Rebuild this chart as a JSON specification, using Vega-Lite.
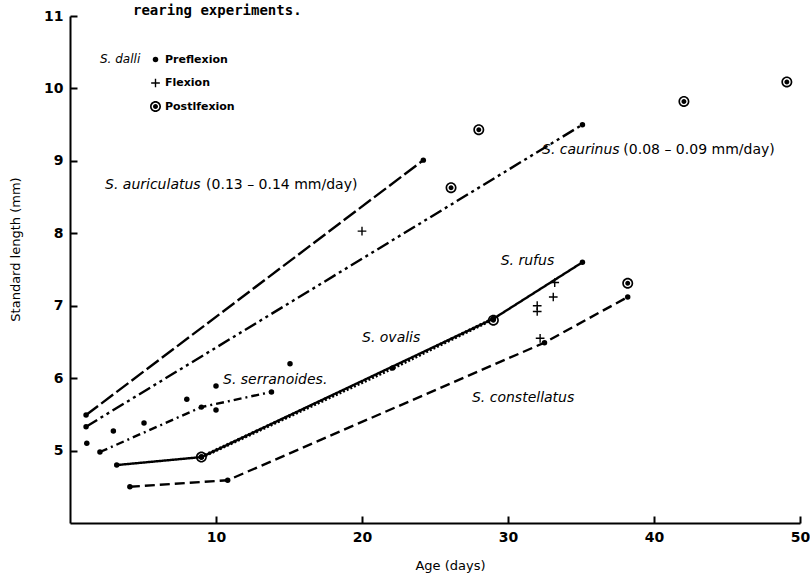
{
  "$schema": "https://vega.github.io/schema/vega-lite/v6.json",
  "autosize": "none",
  "width": 730,
  "height": 507,
  "padding": {"left": 70, "top": 16, "right": 10, "bottom": 51},
  "background": "white",
  "title": {"text": "rearing experiments.", "anchor": "start", "frame": "group", "dx": 63, "offset": 0, "dy": 20, "baseline": "alphabetic", "font": "DejaVu Sans Mono", "fontSize": 14, "fontWeight": "bold", "color": "black"},
  "config": {
    "view": {"stroke": null},
    "axis": {"grid": false, "domainColor": "black", "domainWidth": 2, "tickColor": "black", "tickWidth": 2, "tickSize": -7, "labelPadding": 14, "labelFont": "DejaVu Sans", "labelFontWeight": "bold", "labelFontSize": 14, "labelColor": "black", "titleFont": "DejaVu Sans", "titleFontWeight": "normal", "titleFontSize": 13, "titleColor": "black", "labelFlush": false}
  },
  "datasets": {
    "lines": [
      {"sp": "auriculatus", "age": 1.1, "sl": 5.49},
      {"sp": "auriculatus", "age": 24.2, "sl": 9.01},
      {"sp": "caurinus", "age": 1.1, "sl": 5.33},
      {"sp": "caurinus", "age": 35.1, "sl": 9.5},
      {"sp": "serranoides", "age": 2.05, "sl": 4.98},
      {"sp": "serranoides", "age": 9.0, "sl": 5.6},
      {"sp": "serranoides", "age": 13.8, "sl": 5.81},
      {"sp": "rufus", "age": 3.2, "sl": 4.8},
      {"sp": "rufus", "age": 9.0, "sl": 4.91},
      {"sp": "rufus", "age": 29.0, "sl": 6.82},
      {"sp": "rufus", "age": 35.1, "sl": 7.6},
      {"sp": "constellatus", "age": 4.1, "sl": 4.5},
      {"sp": "constellatus", "age": 10.8, "sl": 4.59},
      {"sp": "constellatus", "age": 32.5, "sl": 6.49},
      {"sp": "constellatus", "age": 38.2, "sl": 7.12}
    ],
    "ovalis": [
      {"sp": "ovalis", "age": 9.0, "sl": 4.91},
      {"sp": "ovalis", "age": 22.1, "sl": 6.14},
      {"sp": "ovalis", "age": 29.0, "sl": 6.82}
    ],
    "dalli": [
      {"stage": "Preflexion", "age": 1.15, "sl": 5.1},
      {"stage": "Preflexion", "age": 2.97, "sl": 5.27},
      {"stage": "Preflexion", "age": 5.07, "sl": 5.38},
      {"stage": "Preflexion", "age": 8.0, "sl": 5.71},
      {"stage": "Preflexion", "age": 10.0, "sl": 5.89},
      {"stage": "Preflexion", "age": 10.0, "sl": 5.56},
      {"stage": "Preflexion", "age": 15.07, "sl": 6.2},
      {"stage": "Flexion", "age": 20.0, "sl": 8.03},
      {"stage": "Flexion", "age": 32.0, "sl": 7.0},
      {"stage": "Flexion", "age": 32.0, "sl": 6.92},
      {"stage": "Flexion", "age": 33.1, "sl": 7.12},
      {"stage": "Flexion", "age": 33.2, "sl": 7.32},
      {"stage": "Flexion", "age": 32.2, "sl": 6.55},
      {"stage": "Postlfexion", "age": 9.0, "sl": 4.91},
      {"stage": "Postlfexion", "age": 26.1, "sl": 8.63},
      {"stage": "Postlfexion", "age": 28.0, "sl": 9.43},
      {"stage": "Postlfexion", "age": 29.0, "sl": 6.8},
      {"stage": "Postlfexion", "age": 38.2, "sl": 7.31},
      {"stage": "Postlfexion", "age": 42.05, "sl": 9.82},
      {"stage": "Postlfexion", "age": 49.1, "sl": 10.09}
    ],
    "names": [
      {"age": 2.4, "sl": 8.67, "label": "S. auriculatus"},
      {"age": 32.33, "sl": 9.15, "label": "S. caurinus"},
      {"age": 29.5, "sl": 7.62, "label": "S. rufus"},
      {"age": 20.0, "sl": 6.555, "label": "S. ovalis"},
      {"age": 10.48, "sl": 5.975, "label": "S. serranoides."},
      {"age": 27.53, "sl": 5.73, "label": "S. constellatus"}
    ],
    "notes": [
      {"age": 9.32, "sl": 8.67, "label": "(0.13 – 0.14 mm/day)"},
      {"age": 37.9, "sl": 9.15, "label": "(0.08 – 0.09 mm/day)"}
    ]
  },
  "encoding": {
    "x": {"field": "age", "type": "quantitative", "scale": {"domain": [0, 50], "nice": false}, "axis": {"values": [10, 20, 30, 40, 50], "title": "Age (days)", "titleX": 380, "titleY": 42, "titleBaseline": "middle"}},
    "y": {"field": "sl", "type": "quantitative", "scale": {"domain": [4, 11], "nice": false, "zero": false}, "axis": {"values": [5, 6, 7, 8, 9, 10, 11], "title": "Standard length (mm)", "titleX": -55, "titleY": 233, "titleBaseline": "middle", "titleAlign": "center"}}
  },
  "layer": [
    {
      "data": {"name": "lines"},
      "mark": {"type": "line", "color": "black", "strokeWidth": 2.4, "strokeCap": "butt", "point": {"filled": true, "size": 30, "color": "black"}},
      "encoding": {
        "detail": {"field": "sp", "type": "nominal"},
        "strokeDash": {"field": "sp", "type": "nominal", "legend": null, "scale": {"domain": ["auriculatus", "caurinus", "serranoides", "rufus", "constellatus"], "range": [[15, 4], [13, 4, 3, 4, 3, 4], [8, 4, 2, 4], [1, 0], [10, 5]]}}
      }
    },
    {
      "data": {"name": "ovalis"},
      "mark": {"type": "line", "color": "black", "strokeWidth": 3.6, "strokeDash": [2, 2], "point": {"filled": true, "size": 30, "color": "black"}},
      "encoding": {}
    },
    {
      "data": {"name": "dalli"},
      "mark": {"type": "point", "filled": true, "color": "black", "opacity": 1, "strokeWidth": 0},
      "encoding": {
        "shape": {"field": "stage", "type": "nominal", "scale": {"domain": ["Preflexion", "Flexion", "Postlfexion"], "range": ["circle", "M-1,-0.16H-0.16V-1H0.16V-0.16H1V0.16H0.16V1H-0.16V0.16H-1Z", "M-1,0A1,1,0,1,1,1,0A1,1,0,1,1,-1,0ZM-0.7,0A0.7,0.7,0,1,0,0.7,0A0.7,0.7,0,1,0,-0.7,0ZM-0.45,0A0.45,0.45,0,1,1,0.45,0A0.45,0.45,0,1,1,-0.45,0Z"]},
          "legend": {"title": "S. dalli", "orient": "none", "legendX": 30, "legendY": 38, "direction": "vertical", "titleOrient": "left", "titleAnchor": "start", "titleFont": "DejaVu Sans", "titleFontStyle": "italic", "titleFontWeight": "normal", "titleFontSize": 12, "titleColor": "black", "titleBaseline": "top", "titlePadding": 9, "labelFont": "DejaVu Sans", "labelFontWeight": "bold", "labelFontSize": 11, "labelColor": "black", "labelOffset": 4, "rowPadding": 11.5, "padding": 0, "symbolFillColor": "black", "symbolStrokeWidth": 0}},
        "size": {"field": "stage", "type": "nominal", "scale": {"domain": ["Preflexion", "Flexion", "Postlfexion"], "range": [30, 121, 169]}, "legend": {"title": "S. dalli", "orient": "none", "legendX": 30, "legendY": 38}}
      }
    },
    {
      "data": {"name": "names"},
      "mark": {"type": "text", "align": "left", "baseline": "middle", "font": "DejaVu Sans", "fontSize": 14, "fontStyle": "italic", "color": "black"},
      "encoding": {"text": {"field": "label"}}
    },
    {
      "data": {"name": "notes"},
      "mark": {"type": "text", "align": "left", "baseline": "middle", "font": "DejaVu Sans", "fontSize": 14, "color": "black"},
      "encoding": {"text": {"field": "label"}}
    }
  ]
}
